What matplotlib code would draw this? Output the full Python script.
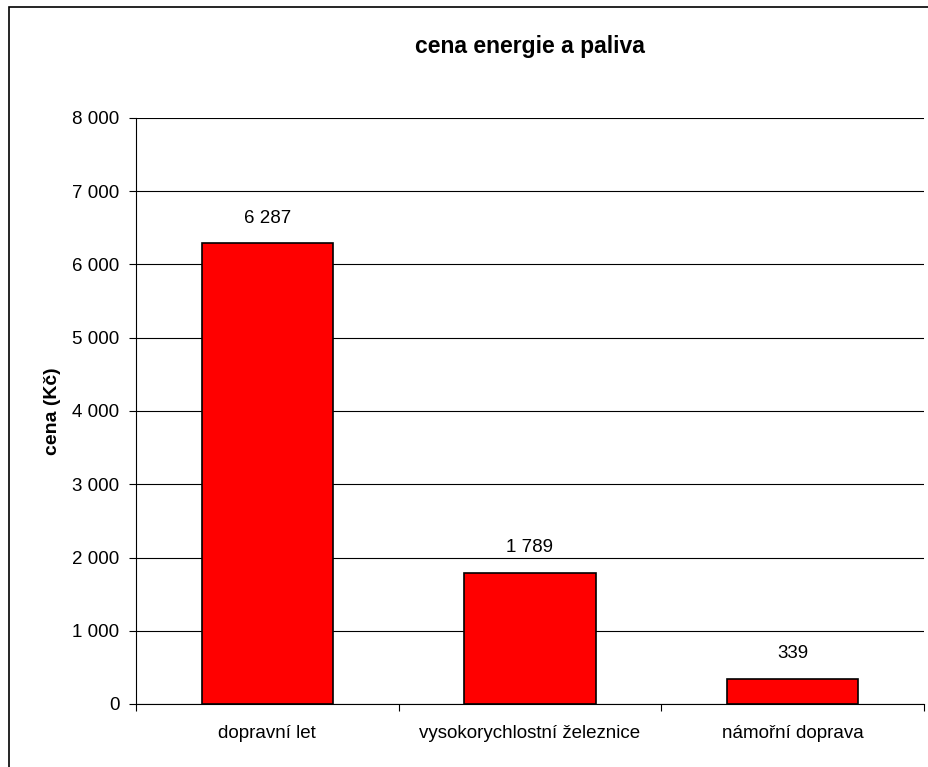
import matplotlib.pyplot as plt
from matplotlib.patches import Rectangle
from matplotlib.ticker import FuncFormatter, MultipleLocator

plt.rcParams['font.family'] = ['Liberation Sans', 'DejaVu Sans']

categories = ['dopravní let', 'vysokorychlostní železnice', 'námořní doprava']
values = [6287, 1789, 339]
value_labels = ['6 287', '1 789', '339']

W, H = 929, 767
fig = plt.figure(figsize=(W/100, H/100), dpi=100)

# outer chart frame (right and bottom run off the image)
fig.patches.append(Rectangle((9/W, -0.2), 1.2, 1.2 - 7/H, transform=fig.transFigure,
                             fill=False, edgecolor='black', linewidth=1.2))

ax = fig.add_axes([136/W, 1 - 704/H, 788/W, (704 - 118)/H])
x = range(len(categories))
ax.bar(x, values, width=0.5, color='#ff0000', edgecolor='black', linewidth=1.2, zorder=3)
for xi, v, lab in zip(x, values, value_labels):
    ax.text(xi, v + 230, lab, ha='center', va='bottom', fontsize=13.5)

ax.set_xlim(-0.5, 2.5)
ax.set_ylim(0, 8000)
ax.yaxis.set_major_locator(MultipleLocator(1000))
ax.yaxis.set_major_formatter(FuncFormatter(lambda v, p: f'{int(v):,}'.replace(',', ' ')))
ax.grid(axis='y', color='black', linewidth=0.8, zorder=0)

ax.set_xticks(list(x))
ax.set_xticklabels(categories, fontsize=13.5)
ax.tick_params(axis='x', length=0, pad=15)
ax.set_xticks([-0.5, 0.5, 1.5, 2.5], minor=True)
ax.tick_params(axis='x', which='minor', length=5, width=0.8)
ax.tick_params(axis='y', labelsize=13.5, length=5, width=0.8, pad=7)

for s in ['top', 'right']:
    ax.spines[s].set_visible(False)
ax.spines['left'].set_linewidth(0.8)
ax.spines['bottom'].set_linewidth(0.8)

ax.set_ylabel('cena (Kč)', fontsize=14, fontweight='bold', labelpad=8)
fig.text((136 + 924) / 2 / W, 1 - 47/H, 'cena energie a paliva', ha='center', va='center',
         fontsize=16.5, fontweight='bold')

fig.savefig('out.png', dpi=100)
